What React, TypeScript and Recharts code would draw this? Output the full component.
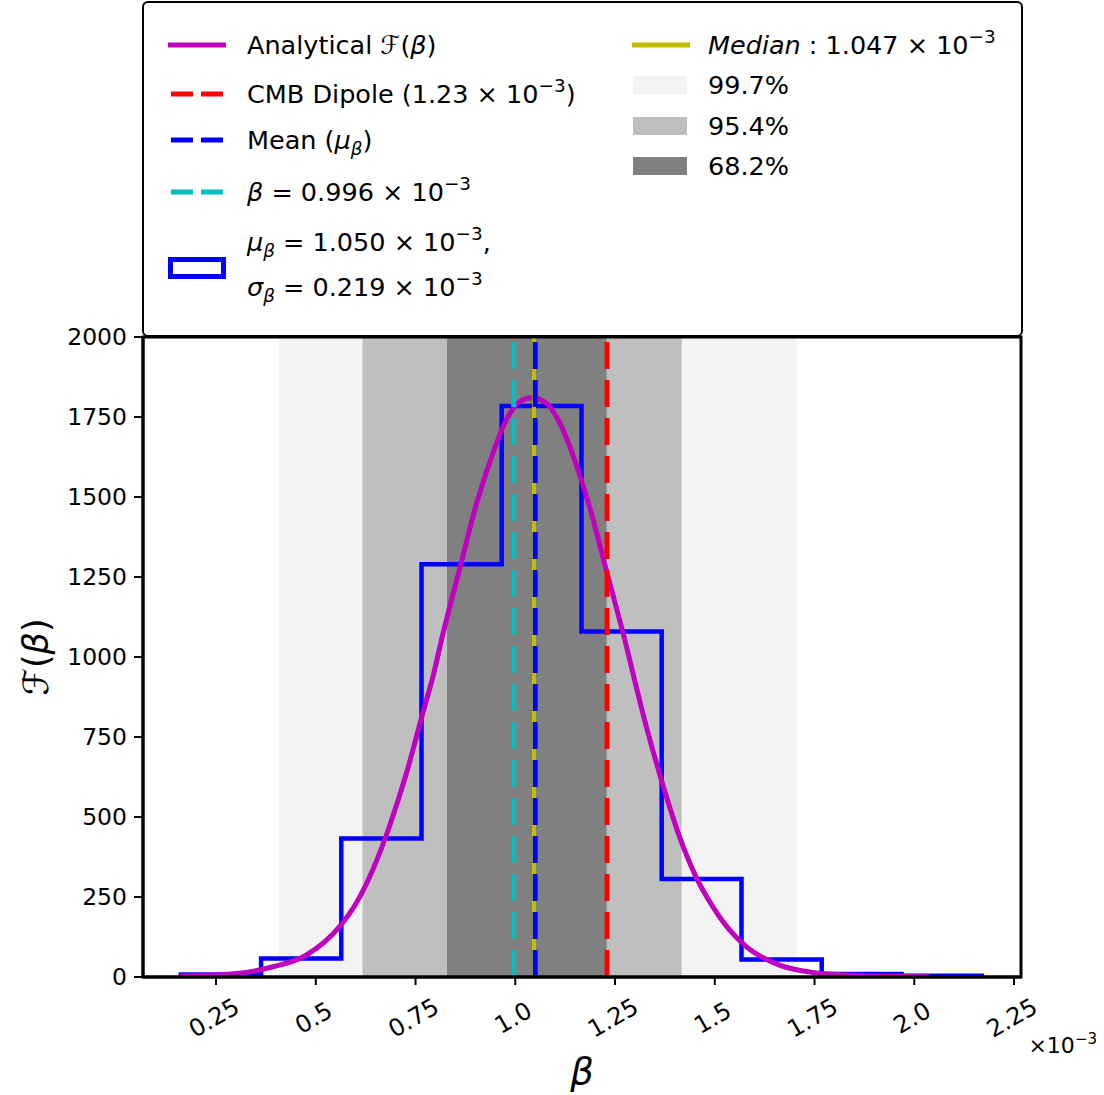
import React from "react"
import { ComposedChart, Line, XAxis, YAxis, ReferenceArea, ReferenceLine, Label } from "recharts"

const FONT = "'DejaVu Sans', 'Noto Sans', sans-serif"

// histogram of sampled beta (x 10^-3)
const binEdges = [0.162, 0.363, 0.564, 0.765, 0.966, 1.166, 1.367, 1.567, 1.768, 1.968, 2.169]
const binCounts = [8, 58, 433, 1290, 1784, 1080, 306, 55, 9, 4]

// analytical curve
const curveBeta = [0.16, 0.309, 0.393, 0.476, 0.56, 0.602, 0.643, 0.685, 0.727, 0.769, 0.794, 0.816, 0.864, 0.903, 0.941, 0.979, 1.018, 1.042, 1.075, 1.113, 1.152, 1.19, 1.228, 1.267, 1.328, 1.37, 1.412, 1.453, 1.495, 1.537, 1.579, 1.662, 1.746, 1.829, 1.95, 2.04]
const curveF = [3, 12, 32, 68, 158, 232, 335, 472, 636, 828, 940, 1058, 1292, 1480, 1626, 1745, 1803, 1810, 1796, 1728, 1604, 1452, 1272, 1090, 785, 600, 437, 313, 220, 147, 95, 37, 14, 6, 2, 1]

// confidence bands
const bandNames = ["99.7%", "95.4%", "68.2%"]
const bandLow = [0.408, 0.617, 0.829]
const bandHigh = [1.705, 1.417, 1.229]

const cmbDipole = 1.23
const meanBeta = 1.05
const medianBeta = 1.047
const betaMark = 0.996

const xTicks = [0.25, 0.5, 0.75, 1.0, 1.25, 1.5, 1.75, 2.0, 2.25]
const xTickLabels = ["0.25", "0.5", "0.75", "1.0", "1.25", "1.5", "1.75", "2.0", "2.25"]
const yTicks = [0, 250, 500, 750, 1000, 1250, 1500, 1750, 2000]

const X_MIN = 0.067
const X_MAX = 2.2675

const bandColors = ["#f3f3f3", "#bfbfbf", "#808080"]

const histData = [
  { beta: binEdges[0], count: 0 },
  ...binCounts.map((c, i) => ({ beta: binEdges[i], count: c })),
  { beta: binEdges[binEdges.length - 1], count: binCounts[binCounts.length - 1] },
  { beta: binEdges[binEdges.length - 1], count: 0 },
]

const curveData = curveBeta.map((b, i) => ({ beta: b, f: curveF[i] }))

const XTick = (props: any) => {
  const { x, y, payload } = props
  const i = xTicks.indexOf(payload.value)
  const cx = x - 2
  const cy = y + 31
  return (
    <text x={cx} y={cy} textAnchor="middle" dominantBaseline="central" transform={`rotate(-30 ${cx} ${cy})`}
      fontSize={24} fontFamily={FONT} fill="#000">
      {i >= 0 ? xTickLabels[i] : payload.value}
    </text>
  )
}

const Sup = ({ children }: any) => (
  <span style={{ fontSize: "0.72em", verticalAlign: "0.6em", lineHeight: 0 }}>{children}</span>
)
const Sub = ({ children }: any) => (
  <span style={{ fontSize: "0.72em", verticalAlign: "-0.35em", lineHeight: 0, fontStyle: "italic" }}>{children}</span>
)
const I = ({ children }: any) => <span style={{ fontStyle: "italic" }}>{children}</span>

const LineHandle = ({ color, dashed }: any) => (
  <svg width={58} height={10} style={{ display: "block" }}>
    <line x1={dashed ? 3 : 0} y1={5} x2={dashed ? 55 : 58} y2={5} stroke={color} strokeWidth={5}
      strokeDasharray={dashed ? "22 8" : undefined} />
  </svg>
)
const PatchHandle = ({ color }: any) => (
  <div style={{ width: 54, height: 18, background: color }} />
)
const BoxHandle = () => (
  <div style={{ width: 58, height: 22, border: "5px solid #0000ff", boxSizing: "border-box" }} />
)

const Row = ({ left, center, textLeft, handle, children }: any) => (
  <div style={{ position: "absolute", left, top: center - 20, height: 40, display: "flex", alignItems: "center" }}>
    <div style={{ width: textLeft - left, display: "flex", alignItems: "center" }}>{handle}</div>
    <div style={{ whiteSpace: "nowrap" }}>{children}</div>
  </div>
)

const LegendBox = () => (
  <div style={{
    position: "absolute", left: 142, top: 1, width: 881, height: 336, border: "2px solid #000",
    borderRadius: 6, background: "#fff", boxSizing: "border-box", fontFamily: FONT, fontSize: 25.5, color: "#000",
  }}>
    <div style={{ position: "absolute", left: -144, top: -3 }}>
      <Row left={168} center={45} textLeft={247} handle={<LineHandle color="#bf00bf" />}>
        Analytical <I>ℱ</I>(<I>β</I>)
      </Row>
      <Row left={168} center={94} textLeft={247} handle={<LineHandle color="#ff0000" dashed />}>
        CMB Dipole (1.23 × 10<Sup>−3</Sup>)
      </Row>
      <Row left={168} center={140} textLeft={247} handle={<LineHandle color="#0000ff" dashed />}>
        Mean (<I>μ</I><Sub>β</Sub>)
      </Row>
      <Row left={168} center={192} textLeft={247} handle={<LineHandle color="#00bfbf" dashed />}>
        <I>β</I> = 0.996 × 10<Sup>−3</Sup>
      </Row>
      <div style={{ position: "absolute", left: 168, top: 257 }}><BoxHandle /></div>
      <Row left={247} center={242} textLeft={247} handle={null}>
        <I>μ</I><Sub>β</Sub> = 1.050 × 10<Sup>−3</Sup>,
      </Row>
      <Row left={247} center={287} textLeft={247} handle={null}>
        <I>σ</I><Sub>β</Sub> = 0.219 × 10<Sup>−3</Sup>
      </Row>
      <Row left={632} center={45} textLeft={708} handle={<LineHandle color="#bfbf00" />}>
        <I>Median</I> : 1.047 × 10<Sup>−3</Sup>
      </Row>
      {bandNames.map((n, i) => (
        <Row key={n} left={633} center={85 + i * 40.5} textLeft={708} handle={<PatchHandle color={bandColors[i]} />}>
          {n}
        </Row>
      ))}
    </div>
  </div>
)

export default function App() {
  return (
    <div style={{ position: "absolute", left: 0, top: 0, width: 1104, height: 1095, background: "#fff" }}>
      <ComposedChart width={1104} height={1095} margin={{ top: 337, right: 83, left: 0, bottom: 0 }}>
        {bandNames.map((n, i) => (
          <ReferenceArea key={n} x1={bandLow[i]} x2={bandHigh[i]} y1={0} y2={2000}
            fill={bandColors[i]} fillOpacity={1} stroke="none" ifOverflow="hidden" zIndex={-10 + i} />
        ))}
        <XAxis type="number" dataKey="beta" domain={[X_MIN, X_MAX]} allowDataOverflow ticks={xTicks}
          interval={0} height={118} tick={<XTick />} tickSize={8} tickMargin={2}
          axisLine={{ stroke: "#000", strokeWidth: 3 }} tickLine={{ stroke: "#000", strokeWidth: 2 }}>
          <Label content={(p: any) => {
            const vb = p.viewBox
            return (
              <g>
                <text x={vb.x + vb.width / 2} y={1084} textAnchor="middle" fontSize={37} fontStyle="italic"
                  fontFamily={FONT} fill="#000">β</text>
                <text x={1097} y={1053} textAnchor="end" fontSize={22} fontFamily={FONT} fill="#000">
                  ×10<tspan fontSize={15} dy={-9}>−3</tspan>
                </text>
              </g>
            )
          }} />
        </XAxis>
        <YAxis type="number" domain={[0, 2000]} ticks={yTicks} width={143} tickSize={9} tickMargin={7}
          allowDataOverflow interval={0}
          tick={{ fontSize: 23.5, fontFamily: FONT, fill: "#000" }}
          axisLine={{ stroke: "#000", strokeWidth: 3 }} tickLine={{ stroke: "#000", strokeWidth: 2 }}>
          <Label content={(p: any) => {
            const vb = p.viewBox
            const cx = 36
            const cy = vb.y + vb.height / 2
            return (
              <text x={cx} y={cy} textAnchor="middle" dominantBaseline="central" transform={`rotate(-90 ${cx} ${cy})`}
                fontSize={35} fontFamily={FONT} fill="#000">
                <tspan fontStyle="italic">ℱ</tspan>(<tspan fontStyle="italic">β</tspan>)
              </text>
            )
          }} />
        </YAxis>
        <Line data={histData} dataKey="count" type="stepAfter" stroke="#0000ff" strokeWidth={4.5}
          dot={false} activeDot={false} isAnimationActive={false} zIndex={400} />
        <Line data={curveData} dataKey="f" type="monotone" stroke="#bf00bf" strokeWidth={5}
          dot={false} activeDot={false} isAnimationActive={false} zIndex={410} />
        <ReferenceLine x={cmbDipole} stroke="#ff0000" strokeWidth={5} strokeDasharray="27 11" zIndex={420} />
        <ReferenceLine x={medianBeta} stroke="#bfbf00" strokeWidth={4} zIndex={421} />
        <ReferenceLine x={meanBeta} stroke="#0000ff" strokeWidth={5} strokeDasharray="27 11" zIndex={422} />
        <ReferenceLine x={betaMark} stroke="#00bfbf" strokeWidth={5} strokeDasharray="27 11" zIndex={423} />
        <ReferenceArea x1={X_MIN} x2={X_MAX} y1={0} y2={2000} fill="none" stroke="#000" strokeWidth={3} zIndex={500} />
      </ComposedChart>
      <LegendBox />
    </div>
  )
}
